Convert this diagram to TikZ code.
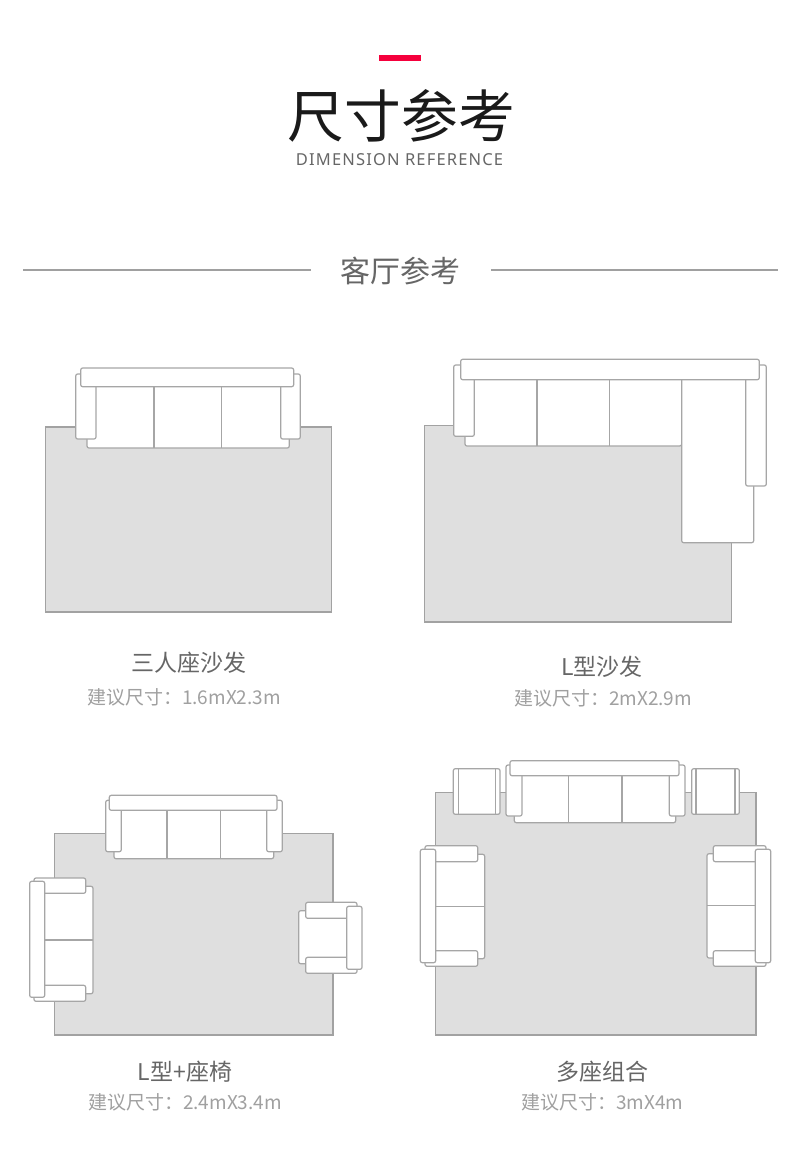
\documentclass[tikz,border=0pt]{standalone}
\usepackage{fontspec}
\newfontfamily\cjk{Noto Sans CJK SC}
\newfontfamily\spaced[LetterSpace=7]{Noto Sans}
\definecolor{barred}{HTML}{F5003C}
\definecolor{rugfill}{HTML}{DFDFDF}
\definecolor{rugline}{HTML}{A2A2A2}
\definecolor{sofaline}{HTML}{A6A6A6}
\definecolor{headtext}{HTML}{1A1A1A}
\definecolor{midtext}{HTML}{666666}
\definecolor{softtext}{HTML}{A0A0A0}
\tikzset{
  rug/.style={draw=rugline, fill=rugfill, line width=1.1pt},
  sofa/.style={draw=sofaline, fill=white, line width=1.2pt, rounded corners=2pt},
  seam/.style={draw=sofaline, line width=1.2pt},
  rule/.style={draw=softtext, line width=1.3pt},
  plan/.style={text=midtext, font=\cjk\fontsize{23}{23}\selectfont, inner sep=0pt},
  size/.style={text=softtext, font=\cjk\fontsize{19}{19}\selectfont, inner sep=0pt}
}
\begin{document}
\begin{tikzpicture}[x=1pt, y=-1pt]
\useasboundingbox[fill=white] (0,0) rectangle (790,1154);

% Heading
\fill[barred] (379,55.3) rectangle (421,61.3);
\node[text=headtext, inner sep=0pt, font=\cjk\fontsize{56.8}{57}\selectfont] (title) at (401.5,116) {尺寸参考};
\node[text=midtext, inner sep=0pt, font=\spaced\fontsize{16.5}{17}\selectfont] (subtitle) at (399.5,160) {DIMENSION REFERENCE};
\node[text=midtext, inner sep=0pt, font=\cjk\fontsize{30}{30}\selectfont] (section) at (400,270.5) {客厅参考};
\draw[rule] (23,270) -- (311,270);
\draw[rule] (491,270) -- (778,270);

% Three seat sofa
\draw[rug] (45.5,427) rectangle (331.5,612);
\draw[sofa] (87,380) rectangle (289.3,448);
\draw[seam] (154,386) -- (154,448);
\draw[seam] (221.7,386) -- (221.7,448);
\draw[sofa] (75.7,374) rectangle (96,439);
\draw[sofa] (280.7,374) rectangle (300.3,439);
\draw[sofa] (80.7,368) rectangle (293.7,386.7);
\node[plan] (planA) at (189,663) {三人座沙发};
\node[size] (sizeA) at (184,697) {建议尺寸：1.6mX2.3m};

% L shaped sofa
\draw[rug] (424.7,425.7) rectangle (731.5,622);
\draw[sofa] (465,372) rectangle (681.7,446);
\draw[seam] (537,379) -- (537,446);
\draw[seam] (609.3,379) -- (609.3,446);
\draw[sofa] (681.7,372) rectangle (753.7,542.7);
\draw[sofa] (453.7,365) rectangle (474.3,436.3);
\draw[sofa] (745.7,365) rectangle (766.3,486);
\draw[sofa] (460.7,359.3) rectangle (759.3,379.7);
\node[plan] (planB) at (602,667) {L型沙发};
\node[size] (sizeB) at (603,698) {建议尺寸：2mX2.9m};

% L shaped sofa and chair
\draw[rug] (54.7,833.7) rectangle (333,1035);
\draw[sofa] (114,804) rectangle (273.7,858.7);
\draw[seam] (167,810) -- (167,858.7);
\draw[seam] (220.3,810) -- (220.3,858.7);
\draw[sofa] (105.7,800.3) rectangle (121.3,851.7);
\draw[sofa] (266.7,800.3) rectangle (282.3,851.7);
\draw[sofa] (109.3,795.3) rectangle (277,810.3);
\draw[sofa] (38,886.3) rectangle (93,993.7);
\draw[seam] (44.7,940) -- (93,940);
\draw[sofa] (34,878) rectangle (85.7,893.3);
\draw[sofa] (34,985.3) rectangle (85.7,1001.3);
\draw[sofa] (29.7,881.3) rectangle (44.7,997.3);
\draw[sofa] (298.7,910.7) rectangle (352,963.7);
\draw[sofa] (305.7,902.3) rectangle (357,918.3);
\draw[sofa] (305.7,957.3) rectangle (357,973.3);
\draw[sofa] (346.7,906.3) rectangle (362,969.3);
\node[plan] (planC) at (185,1071.5) {L型+座椅};
\node[size] (sizeC) at (185,1102) {建议尺寸：2.4mX3.4m};

% Many seats
\draw[rug] (435.3,792.3) rectangle (756,1035);
\draw[sofa] (453.3,768.7) rectangle (500,814.3);
\draw[seam] (458.3,769) -- (458.3,814);
\draw[seam] (495.5,769) -- (495.5,814);
\draw[sofa] (691.7,768.7) rectangle (739.3,814.3);
\draw[seam] (696,769) -- (696,814);
\draw[seam] (735,769) -- (735,814);
\draw[sofa] (514.3,770) rectangle (675.7,822.7);
\draw[seam] (568.3,775) -- (568.3,822.7);
\draw[seam] (622,775) -- (622,822.7);
\draw[sofa] (506,765) rectangle (522,816);
\draw[sofa] (669.3,765) rectangle (685,816);
\draw[sofa] (510,760.7) rectangle (679,775.7);
\draw[sofa] (430,854.3) rectangle (484.7,958.7);
\draw[seam] (435.7,906.7) -- (484.7,906.7);
\draw[sofa] (425,845.7) rectangle (477.7,861.7);
\draw[sofa] (425,950.7) rectangle (477.7,966.3);
\draw[sofa] (420.3,849.3) rectangle (435.7,962.7);
\draw[sofa] (707,853.7) rectangle (760,958);
\draw[seam] (707,905.7) -- (755.3,905.7);
\draw[sofa] (713.3,845.7) rectangle (766,861.7);
\draw[sofa] (713.3,950.7) rectangle (766,966.3);
\draw[sofa] (755.3,849.3) rectangle (770.7,962.7);
\node[plan] (planD) at (602,1071.5) {多座组合};
\node[size] (sizeD) at (602.5,1102) {建议尺寸：3mX4m};
\end{tikzpicture}
\end{document}
